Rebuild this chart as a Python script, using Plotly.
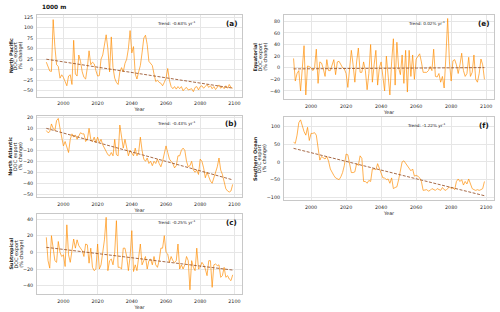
import numpy as np
import plotly.graph_objects as go

years = list(range(1990, 2100))

north_pacific = [18, 5, -3, -4, 119, 55, 12, 8, -20, -12,
                 -18, -28, -38, -15, -12, -35, 70, -10, -15, 35,
                 20, -5, -18, -22, 5, 45, 12, 18, 14, -2,
                 -15, -14, 25, 35, 60, 83, 50, -5, 78, 5,
                 -20, -30, -35, -5, 5, -5, 15, 25, 50, 93,
                 40, 55, -10, -22, -5, 10, 40, 75, 82, 60,
                 20, 15, 10, -10, -28, -25, -30, -32, -38, -30,
                 -20, 3, -25, -40, -45, -40, -46, -40, -45, -40,
                 -50, -45, -42, -48, -47, -45, -52, -42, -40, -48,
                 -40, -38, -44, -40, -35, -42, -38, -45, -40, -47,
                 -42, -36, -44, -40, -45, -38, -44, -35, -42, -44]

north_atlantic = [8, 6, 7, 14, 10, 8, 17, 19, 10, 2,
                  -6, -2, -8, -12, 0, 5, 2, 4, 0, 3,
                  6, 5, 5, -2, 0, 10, 0, -2, 2, -3,
                  2, -3, 0, -5, -8, -12, -14, -15, -12, -15,
                  0, -14, -15, 13, 0, -8, 0, -9, -15, -10,
                  -12, -15, -8, -15, -12, 2, -10, -18, -20, -17,
                  -22, -20, -24, -20, -22, -18, -22, -25, -20, -12,
                  -6, -12, -18, -20, -22, -26, -24, -15, -15, -10,
                  -8, -10, -20, -25, -24, -20, -28, -30, -28, -32,
                  -18, -20, -26, -35, -30, -34, -38, -40, -35, -30,
                  -25, -17, -28, -32, -38, -45, -47, -48, -47, -41]

subtropical = [18, -10, -19, 20, 5, -10, -12, 13, 0, -5,
               -3, -17, 33, -3, -12, 2, 16, 5, 15, 8,
               5, 2, -5, 10, 9, -13, 5, -18, -22, -20,
               10, -20, -15, 0, 15, 42, -22, -10, -8, -15,
               0, 38, -18, -18, -20, 5, 5, -5, -22, -5,
               26, -23, -15, -22, -5, 10, -15, -10, -5, -20,
               -10, -8, -15, -5, -15, -18, -10, 5, 5, 20,
               0, -2, -12, -5, -10, -12, -10, 10, -20, -15,
               -20, -15, -5, -10, -45, -10, -18, -22, 5, -20,
               -18, -12, -15, -20, -28, -10, -10, -42, -15, -14,
               -16, -15, -30, -28, -18, -30, -28, -32, -34, -27]

equatorial = [16, -23, -10, -5, -40, 0, 38, -47, 3, 2,
              0, -5, 0, 32, -27, 10, 8, -2, -15, 14,
              -5, -5, 5, 14, -12, 10, 11, 5, 0, -2,
              -10, -34, -5, 30, 5, -25, 10, 34, -8, -8,
              10, -5, -38, -10, 40, -25, 5, 30, -30, 0,
              10, -20, -40, 20, -10, -47, 10, 50, -30, 44,
              0, -12, 22, -27, 30, -42, 30, -15, 22, -20,
              15, 20, 24, 10, -8, -8, -8, -5, 2, -5,
              32, -15, -16, -10, -25, -15, -35, 20, 85, 10,
              -23, 12, 14, 5, -10, 5, 25, -5, -15, -10,
              18, -15, -8, 22, -20, -25, -10, 15, 5, -20]

southern_ocean = [55, 52, 75, 110, 118, 100, 85, 75, 97, 60,
                  80, 80, 82, 75, 40, 5, 15, 12, 8, 15,
                  2, -20, -30, -38, -45, -48, -50, -42, -30, -10,
                  22, 20, -5, -30, -30, -28, -5, -10, 17, 10,
                  -55, -55, -60, -52, -55, -20, -20, -22, -5, -18,
                  -30, -45, -45, -50, -48, -60, -45, -75, -72, -70,
                  -50, -20, 0, 3, -5, -10, -20, -25, -20, -40,
                  -38, -40, -45, -55, -80, -80, -78, -82, -80, -75,
                  -78, -80, -75, -78, -80, -72, -78, -80, -75, -70,
                  -75, -72, -78, -55, -48, -55, -50, -65, -55, -62,
                  -48, -65, -75, -78, -80, -78, -80, -78, -75, -55]

region_names = ["North Pacific", "North Atlantic", "Subtropical", "Equatorial", "Southern Ocean"]
panel_letters = ["(a)", "(b)", "(c)", "(e)", "(f)"]
trend_slopes = [-0.63, -0.43, -0.25, 0.02, -1.22]
trend_start = [25, 10, 6, -2, 38]
y_ticks = [list(range(-50, 126, 25)), list(range(-50, 21, 10)), list(range(-40, 41, 20)),
           list(range(-40, 81, 20)), list(range(-100, 101, 50))]
x_ticks = [2000, 2020, 2040, 2060, 2080, 2100]

series = [north_pacific, north_atlantic, subtropical, equatorial, southern_ocean]

# layout (pixels -> paper fractions)
W, H = 500, 312
boxes = [(37, 242, 15, 96.7), (37, 242, 115.7, 197), (37, 242, 214, 294),
         (284, 494, 15, 99), (284, 494, 117, 200)]
label_x = [(10.5, 15.6, 20.7)] * 3 + [(254.5, 259.6, 264.7)] * 2
y_ranges = [[-64, 130], [-52.5, 21.5], [-50, 46], [-54, 91], [-107, 126]]

fig = go.Figure()
FONT = "DejaVu Sans"
TXT = "#262626"
annotations = []
for i, (vals, name) in enumerate(zip(series, region_names)):
    ax = "" if i == 0 else str(i + 1)
    xa, ya = "x" + ax, "y" + ax
    fig.add_trace(go.Scatter(x=years, y=vals, mode="lines", xaxis=xa, yaxis=ya,
                             line=dict(color="rgba(255,140,0,0.68)", width=1), showlegend=False))
    yr = np.array(years, dtype=float)
    trend = trend_start[i] + trend_slopes[i] * (yr - years[0])
    fig.add_trace(go.Scatter(x=years, y=trend, mode="lines", xaxis=xa, yaxis=ya,
                             line=dict(color="rgba(150,80,40,0.85)", width=1, dash="3px,1.5px"),
                             showlegend=False))
    x0, x1, y0, y1 = boxes[i]
    common = dict(showgrid=True, gridcolor="#e6e6e6", gridwidth=0.8, showline=True,
                  linecolor="#c8c8c8", linewidth=1, mirror=True, ticks="", zeroline=False,
                  tickfont=dict(family=FONT, size=4.8, color=TXT), automargin=False)
    fig.layout["xaxis" + ax] = dict(domain=[x0 / W, x1 / W], anchor=ya, range=[1984.55, 2104.45],
                                    tickvals=x_ticks, ticklabelstandoff=2,
                                    title=dict(text="Year", font=dict(family=FONT, size=4.8, color=TXT), standoff=2),
                                    **common)
    fig.layout["yaxis" + ax] = dict(domain=[1 - y1 / H, 1 - y0 / H], anchor=xa, range=y_ranges[i],
                                    tickvals=y_ticks[i], ticklabelstandoff=2, **common)
    yc = 1 - (y0 + y1) / 2 / H
    for lx, txt in zip(label_x[i], ["<b>" + name + "</b>", "DOC export", "(% change)"]):
        annotations.append(dict(text=txt, xref="paper", yref="paper", x=lx / W, y=yc,
                                xanchor="center", yanchor="middle", textangle=-90, showarrow=False,
                                font=dict(family=FONT, size=4.9, color=TXT)))
    sign = "-" if trend_slopes[i] < 0 else ""
    annotations.append(dict(text="Trend: %s%.2f%% yr<sup>-1</sup>" % (sign, abs(trend_slopes[i])),
                            xref=xa + " domain", yref=ya + " domain", x=0.68, y=0.905,
                            xanchor="center", yanchor="middle", showarrow=False,
                            font=dict(family=FONT, size=4.2, color="#222222")))
    annotations.append(dict(text="<b>" + panel_letters[i] + "</b>",
                            xref=xa + " domain", yref=ya + " domain", x=0.985, y=0.9,
                            xanchor="right", yanchor="middle", showarrow=False,
                            font=dict(family=FONT, size=7.2, color="#111111")))

annotations.append(dict(text="<b>1000 m</b>", xref="paper", yref="paper", x=40 / W, y=1 - 7 / H,
                        xanchor="left", yanchor="middle", showarrow=False,
                        font=dict(family=FONT, size=5.8, color="#111111")))

fig.update_layout(width=W, height=H, margin=dict(l=0, r=0, t=0, b=0),
                  paper_bgcolor="white", plot_bgcolor="white", annotations=annotations)

fig.write_html("out.html", config={"displayModeBar": False},
               post_script="document.body.style.margin='0';document.body.style.overflow='hidden';")
